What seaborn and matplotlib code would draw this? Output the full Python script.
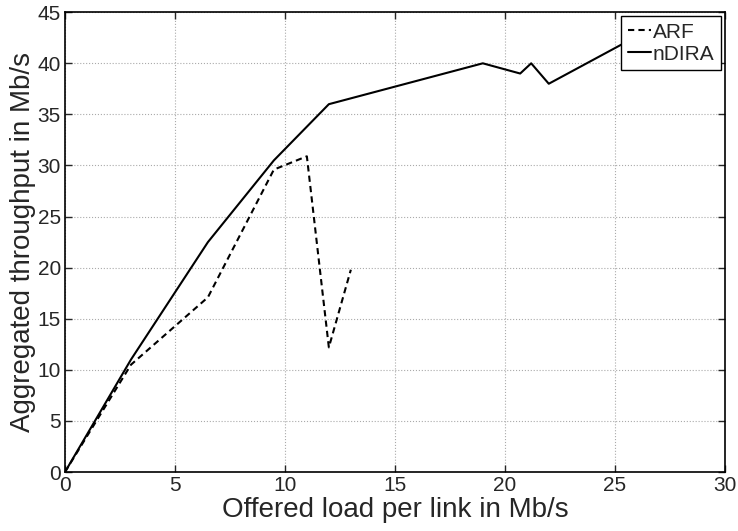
import pandas as pd
import matplotlib
matplotlib.use("Agg")
import matplotlib.pyplot as plt
import seaborn as sns

# data
arf_x = [0, 3, 6.5, 9.5, 11, 12, 13]
arf_y = [0, 10.5, 17.1, 29.6, 30.9, 12.2, 19.8]
ndira_x = [0, 3, 6.5, 9.5, 12, 19, 20.7, 21.2, 22, 27]
ndira_y = [0, 11.0, 22.5, 30.5, 36.0, 40.0, 39.0, 40.0, 38.0, 43.8]

df = pd.concat([
    pd.DataFrame({"load": arf_x, "thr": arf_y, "scheme": "ARF"}),
    pd.DataFrame({"load": ndira_x, "thr": ndira_y, "scheme": "nDIRA"}),
])

sns.set_style("ticks")
plt.rcParams["font.family"] = ["Liberation Sans", "DejaVu Sans"]

fig = plt.figure(figsize=(7.38, 5.31), dpi=100)
ax = fig.add_axes([0.088, 0.111, 0.894, 0.866])

sns.lineplot(data=df, x="load", y="thr", style="scheme", sort=False,
             dashes={"ARF": (3, 2), "nDIRA": ""}, color="black", lw=1.5,
             ax=ax, estimator=None)

ax.set_xlim(0, 30)
ax.set_ylim(0, 45)
ax.set_xticks(range(0, 31, 5))
ax.set_yticks(range(0, 46, 5))
ax.grid(True, linestyle=":", color="#aaaaaa", lw=0.8)
ax.tick_params(direction="in", top=True, right=True, labelsize=15, length=5, width=1, pad=3)
for s in ax.spines.values():
    s.set_linewidth(1.2)
    s.set_color("black")
ax.set_xlabel("Offered load per link in Mb/s", fontsize=20, labelpad=1)
ax.set_ylabel("Aggregated throughput in Mb/s", fontsize=20, labelpad=1)

leg = ax.legend(loc="upper right", fontsize=15, handlelength=1.1, handletextpad=0.1,
                borderpad=0.3, borderaxespad=0.2, fancybox=False, framealpha=1,
                edgecolor="black", labelspacing=0.15)
leg.get_frame().set_linewidth(1.0)

fig.savefig("out.png", dpi=100)
